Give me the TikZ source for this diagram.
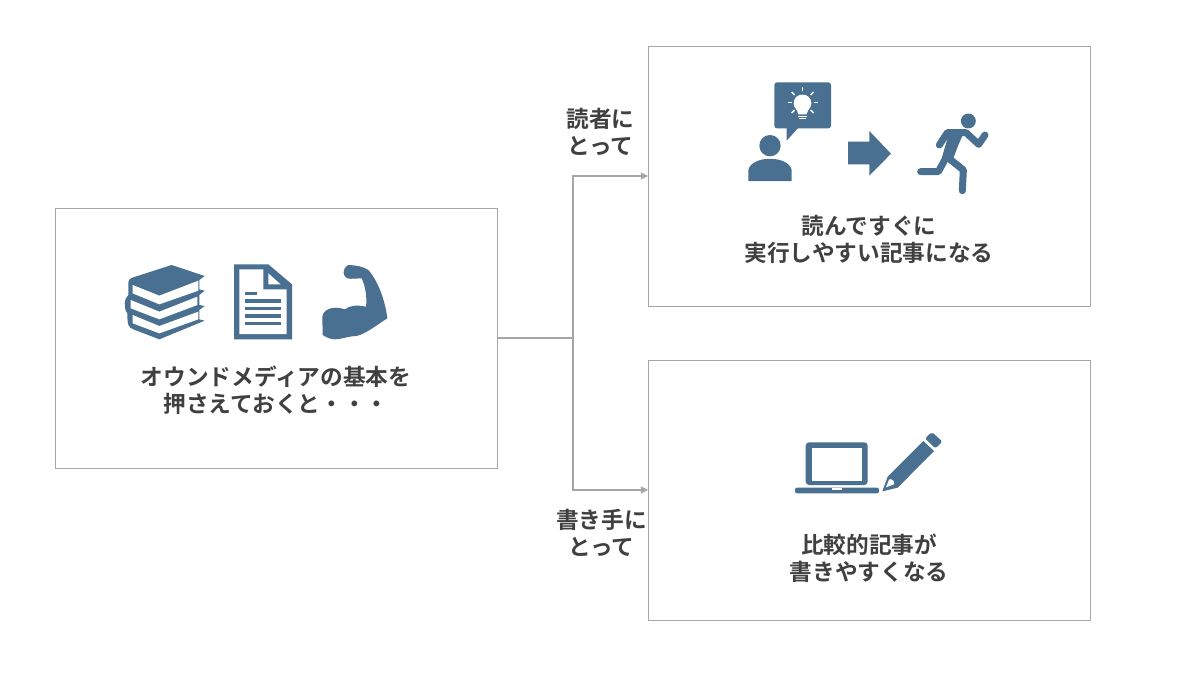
\documentclass[tikz,border=0pt]{standalone}
\usepackage{fontspec}
\setmainfont{Noto Sans CJK JP}[BoldFont={Noto Sans CJK JP Bold}]
\usetikzlibrary{arrows.meta}
\definecolor{iconblue}{HTML}{4A7091}
\definecolor{boxgrey}{HTML}{A6A6A6}
\definecolor{textgrey}{HTML}{404040}
\tikzset{
  panel/.style={draw=boxgrey,line width=0.75pt,fill=white,minimum width=331.5pt,minimum height=195pt,inner sep=0pt},
  label/.style={text=textgrey,align=center,inner sep=0pt,font=\fontsize{17pt}{20.25pt}\selectfont\bfseries},
  conn/.style={draw=boxgrey,line width=2pt},
  tip/.style={-{Triangle[length=5.5pt,width=5pt]},shorten >=-0.6pt},
  ic/.style={fill=iconblue,draw=none},
  wh/.style={fill=white,draw=none},
}
\begin{document}
\begin{tikzpicture}[x=0.75pt,y=-0.75pt]
\useasboundingbox (0,0) rectangle (1200,675);
\fill[white] (0,0) rectangle (1200,675);
\node[panel] (left) at (276,338) {};
\node[panel] (rt) at (869,176) {};
\node[panel] (rb) at (869,490) {};
\coordinate (j) at (573,338);
\draw[conn] (left.east) -- (j);
\draw[conn,tip] (j) |- (rt.west);
\draw[conn,tip] (j) |- (rb.west);

\node[label] (t1) at (276,390) {オウンドメディアの基本を\\押さえておくと・・・};
\node[label] (t2) at (869,239.5) {読んですぐに\\実行しやすい記事になる};
\node[label] (t3) at (869,558) {比較的記事が\\書きやすくなる};
\node[label] (t4) at (600.5,131.5) {読者に\\とって};
\node[label] (t5) at (601.5,532.5) {書き手に\\とって};

% books, document, muscle
\begin{scope}[shift={(110,250)},x=0.25pt,y=-0.25pt]
\fill[ic] (185,45) -- (284,78) -- (268,90) -- (268,118) -- (284,122) -- (268,135) -- (268,165) -- (284,168) -- (268,180) -- (268,208) -- (284,212) -- (148,268) -- (70,238) .. controls (55,232) and (52,225) .. (52,190) .. controls (40,175) and (42,145) .. (55,135) -- (55,100) .. controls (55,90) and (60,85) .. (70,82) -- cycle;
\fill[wh] (68,105) -- (148,137) -- (265,92) -- (265,122) -- (148,163) -- (68,130) -- cycle;
\fill[wh] (62,150) -- (148,185) -- (262,140) -- (262,165) -- (148,208) -- (62,175) -- cycle;
\fill[wh] (68,195) -- (148,228) -- (265,185) -- (265,208) -- (148,250) -- (68,220) -- cycle;
\fill[ic] (372,43) -- (475,43) -- (546,103) -- (546,268) -- (372,268) -- cycle;
\fill[wh] (388,58) -- (460,58) -- (460,118) -- (530,118) -- (530,252) -- (388,252) -- cycle;
\fill[wh] (475,70) -- (475,103) -- (512,103) -- cycle;
\fill[ic] (405,125) rectangle (442,135);
\fill[ic] (405,148) rectangle (512,158);
\fill[ic] (405,171) rectangle (512,181);
\fill[ic] (405,193) rectangle (512,203);
\fill[ic] (405,216) rectangle (512,226);
\fill[ic] (715,45) .. controls (740,46) and (760,50) .. (775,60) .. controls (805,95) and (825,150) .. (832,205) .. controls (800,225) and (770,250) .. (740,258) .. controls (715,258) and (695,268) .. (675,268) .. controls (660,268) and (650,262) .. (638,255) -- (637,200) .. controls (640,180) and (665,165) .. (705,178) .. controls (720,165) and (745,165) .. (768,170) .. controls (772,140) and (765,105) .. (755,85) .. controls (740,85) and (725,88) .. (712,85) .. controls (698,80) and (695,55) .. (715,45) -- cycle;
\end{scope}

% person with idea, arrow, runner
\begin{scope}[shift={(740,75)},x=0.25pt,y=-0.25pt]
\fill[ic,rounded corners=2pt] (103,22) rectangle (273,160);
\fill[ic] (175,158) -- (140,197) -- (140,158) -- cycle;
\fill[wh] (175,118) .. controls (172,100) and (161,100) .. (161,85) .. controls (161,50) and (214,50) .. (214,85) .. controls (214,100) and (203,100) .. (200,118) -- cycle;
\fill[wh] (175,122) rectangle (200,126);
\fill[wh] (178,129) rectangle (197,133);
\begin{scope}[white,line width=1pt,line cap=butt]
\draw (187,37) -- (187,49);
\draw (155,51) -- (164,60);
\draw (221,51) -- (212,60);
\draw (143,83) -- (155,83);
\draw (221,83) -- (233,83);
\draw (155,114) -- (164,105);
\draw (221,114) -- (212,105);
\end{scope}
\fill[ic] (90,212) circle[radius=8pt];
\fill[ic] (25,318) -- (25,285) .. controls (35,240) and (145,240) .. (155,285) -- (155,318) -- cycle;
\fill[ic] (324,200) -- (388,200) -- (388,168) -- (453,236) -- (388,302) -- (388,268) -- (324,268) -- cycle;
\fill[ic] (685,138) circle[radius=5.6pt];
\begin{scope}[iconblue,line width=5.25pt,line cap=round,line join=round]
\draw (598,210) -- (622,173) -- (678,173) -- (716,208) -- (735,180);
\draw (645,180) -- (618,248) -- (595,290) -- (542,290);
\draw (620,245) -- (670,285) -- (667,347);
\end{scope}
\fill[ic] (630,165) -- (675,165) -- (655,210) -- (638,255) -- (605,250) -- cycle;
\end{scope}

% laptop and pencil
\begin{scope}[shift={(785,425)},x=0.25pt,y=-0.25pt]
\fill[ic,rounded corners=2.5pt] (62,52) rectangle (248,180);
\fill[wh] (80,68) rectangle (232,168);
\fill[ic,rounded corners=1.5pt] (30,188) -- (282,188) -- (282,205) -- (30,205) -- cycle;
\fill[wh] (140,188) rectangle (172,194);
\fill[ic] (308,155) -- (415,48) -- (447,78) -- (338,188) -- (292,199) -- cycle;
\fill[wh] (303,187) -- (312,164) .. controls (318,158) and (332,170) .. (327,178) -- cycle;
\fill[ic,rounded corners=1.5pt] (420,40) -- (441,21) -- (472,50) -- (451,70) -- cycle;
\end{scope}
\end{tikzpicture}
\end{document}
